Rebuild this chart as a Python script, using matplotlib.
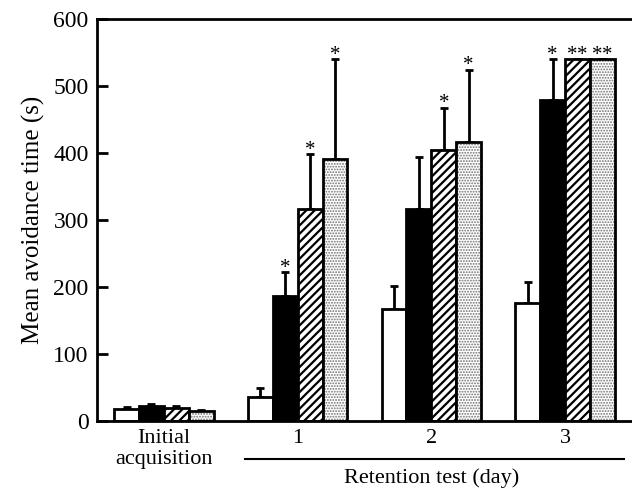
import matplotlib
matplotlib.use("Agg")
import matplotlib.pyplot as plt
import numpy as np

plt.rcParams["font.family"] = ["Liberation Serif", "DejaVu Serif"]

groups = ["Initial\nacquisition", "1", "2", "3"]
white = [18, 36, 167, 176]
white_err = [3, 13, 35, 31]
black = [23, 187, 317, 479]
black_err = [3, 35, 77, 61]
hatched = [19, 317, 404, 540]
hatched_err = [3, 81, 63, 0]
dotted = [15, 391, 417, 540]
dotted_err = [1, 149, 107, 0]
# number of significance stars per group and bar
stars = [[0, 0, 0, 0], [0, 1, 1, 1], [0, 0, 1, 1], [0, 1, 2, 2]]

fig = plt.figure(figsize=(6.32, 4.91), dpi=100)
ax = fig.add_axes([97 / 632, 70 / 491, 1 - 97 / 632, 402 / 491])

x = np.arange(len(groups))
w = 0.186
series = [(white, white_err, "white", None),
          (black, black_err, "black", None),
          (hatched, hatched_err, "white", "////"),
          (dotted, dotted_err, "white", "......")]
for i, (vals, errs, fc, hatch) in enumerate(series):
    xs = x + (i - 1.5) * w
    if hatch == "......":
        # light stipple: grey dots, then the black outline on top
        plt.rcParams["hatch.linewidth"] = 0.9
        ax.bar(xs, vals, w, color=fc, edgecolor="#707070", linewidth=0, hatch=hatch, zorder=2)
        ax.bar(xs, vals, w, fill=False, edgecolor="black", linewidth=2, zorder=3)
    else:
        plt.rcParams["hatch.linewidth"] = 1.6
        ax.bar(xs, vals, w, color=fc, edgecolor="black", linewidth=2, hatch=hatch, zorder=2)
    ax.errorbar(xs, vals, yerr=[np.zeros(len(errs)), errs], fmt="none", ecolor="black",
                elinewidth=2, capsize=3, capthick=2, zorder=1)
    for g in range(len(groups)):
        n = stars[g][i]
        top = vals[g] + errs[g] - 8
        if n == 1:
            ax.text(xs[g], top, "*", ha="center", va="bottom", fontsize=15)
        elif n == 2:
            for dx in (-0.038, 0.038):
                ax.text(xs[g] + dx, top, "*", ha="center", va="bottom", fontsize=15)

ax.set_xlim(-0.5, 3.5)
ax.set_ylim(0, 600)
ax.set_yticks(range(0, 601, 100))
ax.set_xticks([])
ax.tick_params(axis="y", direction="in", length=8, width=2, labelsize=17, pad=6)
for sp in ["left", "bottom", "top"]:
    ax.spines[sp].set_linewidth(2)
ax.spines["right"].set_visible(False)
ax.set_ylabel("Mean avoidance time (s)", fontsize=18, labelpad=6)

for g, lab in enumerate(groups):
    ax.text(x[g], -12, lab, ha="center", va="top", fontsize=16, linespacing=1.15,
            clip_on=False)

ax.plot([0.61, 3.44], [-57, -57], color="black", lw=1.5, clip_on=False)
ax.text(2.0, -71, "Retention test (day)", ha="center", va="top", fontsize=16, clip_on=False)

fig.savefig("out.png", dpi=100)
